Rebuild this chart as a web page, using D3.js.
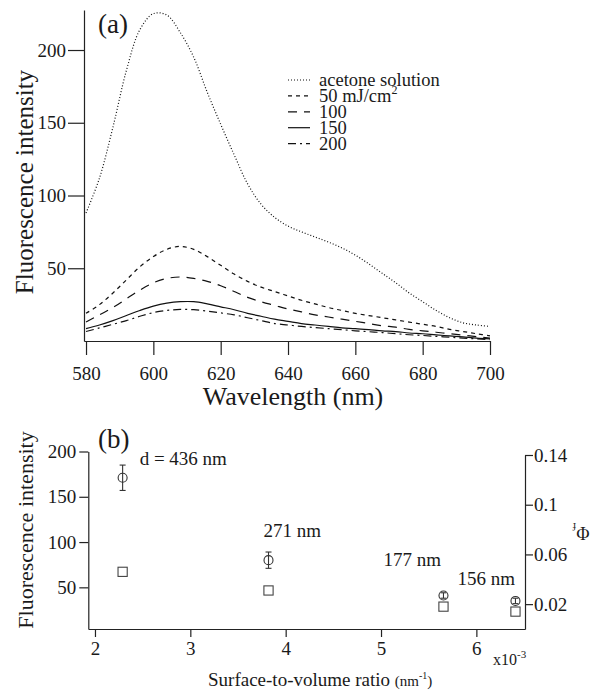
<!DOCTYPE html>
<html>
<head>
<meta charset="utf-8">
<script src="https://cdn.jsdelivr.net/npm/d3@7/dist/d3.min.js"></script>
<style>
  body { margin: 0; background: #fff; }
  svg text { font-family: "Liberation Serif", "Times New Roman", "DejaVu Serif", serif; fill: #1a1a1a; }
</style>
</head>
<body>
<svg id="chart"></svg>
<script>
// panel (a): emission spectra
const wavelength = [580, 584, 588, 592, 596, 600, 604, 608, 612, 616, 620, 624, 628, 632, 636, 640,
  644, 648, 652, 656, 660, 664, 668, 672, 676, 680, 684, 688, 692, 696, 700];
const acetone = [88, 112, 147, 186, 214, 225, 224, 212, 195, 171, 149, 128, 108, 94, 85, 79,
  75, 71.5, 68, 64, 59, 53, 46.5, 40, 33, 27, 21, 16, 12.5, 11, 10];
const fluence50 = [19, 25, 33, 42, 51, 58, 63, 65, 63, 58, 52, 46, 41, 37, 34, 31,
  28, 25.5, 23, 21, 19, 17.5, 16, 14.5, 13, 11.5, 10, 8, 6.5, 5, 3.5];
const fluence100 = [13, 18, 23, 29, 35, 40, 43, 44, 43, 41, 38, 34, 30, 27, 24.5, 22,
  20, 18, 16.5, 15, 13.5, 12, 10.5, 9.5, 8, 7, 6, 5, 4, 3, 2];
const fluence150 = [8.5, 11, 14, 17.5, 21, 24, 26, 27, 27, 25.5, 23.5, 21.5, 19, 17, 15, 13.5,
  12, 11, 10, 9, 8.5, 7.8, 7, 6.5, 5.5, 5, 4.2, 3.5, 2.8, 2, 1.5];
const fluence200 = [6.5, 9, 11.5, 14, 17, 19.5, 21, 21.7, 21.5, 20.5, 19.3, 18, 16, 14, 12, 11,
  10, 9.2, 8.5, 7.8, 7, 6.4, 5.8, 5, 4.3, 3.8, 3.2, 2.6, 2, 1.5, 1];
const seriesNames = ["acetone solution", "50 mJ/cm", "100", "150", "200"];
const waveTicks = [580, 600, 620, 640, 660, 680, 700];
const intensityTicksA = [50, 100, 150, 200];

// panel (b): size dependence
const sizeLabels = ["d = 436 nm", "271 nm", "177 nm", "156 nm"];
const ratio = [2.29, 3.82, 5.655, 6.41];
const intensity = [171, 80, 41, 35];
const intensityErr = [14, 9, 3, 3];
const phiF = [0.046, 0.031, 0.018, 0.014];
const ratioTicks = [2, 3, 4, 5, 6];
const intensityTicksB = [50, 100, 150, 200];
const phiTicks = [0.02, 0.06, 0.1, 0.14];

const series = [acetone, fluence50, fluence100, fluence150, fluence200];
const dashes = ["1,2", "4,4", "9,7", null, "8,4,2,4"];
const labelOffsets = [[17, -13], [-5, -23], [-60, -29], [-58, -16]];
const serif = "Liberation Serif, Times New Roman, DejaVu Serif, serif";

const svg = d3.select("#chart")
  .attr("width", 597).attr("height", 695)
  .attr("font-family", serif);

function styleAxis(g, size) {
  g.attr("font-family", serif).attr("font-size", size);
  g.selectAll("path, line").attr("stroke", "#222").attr("stroke-width", 1.2);
  g.selectAll("text").attr("fill", "#1a1a1a");
}

// ---------- (a) ----------
const xA = d3.scaleLinear().domain([579.4, 700]).range([84, 490]);
const yA = d3.scaleLinear().domain([0, 227.5]).range([341, 10]);

svg.append("g")
  .attr("transform", "translate(0,341)")
  .call(d3.axisBottom(xA).tickValues(waveTicks).tickSize(14).tickSizeOuter(0).tickPadding(12))
  .call(g => styleAxis(g, 19));

svg.append("g")
  .attr("transform", "translate(84,0)")
  .call(d3.axisLeft(yA).tickValues(intensityTicksA).tickSize(16).tickSizeOuter(0).tickPadding(2))
  .call(g => styleAxis(g, 19));

const line = d3.line()
  .x((d, i) => xA(wavelength[i]))
  .y(d => yA(d))
  .curve(d3.curveCatmullRom);

series.forEach((s, k) => {
  svg.append("path")
    .datum(s)
    .attr("d", line)
    .attr("fill", "none")
    .attr("stroke", "#111")
    .attr("stroke-width", 1.2)
    .attr("stroke-dasharray", dashes[k]);
});

// legend
const legend = svg.append("g").attr("transform", "translate(288,80)");
seriesNames.forEach((name, k) => {
  const y = k * 15.9;
  legend.append("line")
    .attr("x1", 0).attr("x2", 22).attr("y1", y).attr("y2", y)
    .attr("stroke", "#111").attr("stroke-width", 1.2)
    .attr("stroke-dasharray", dashes[k]);
  const t = legend.append("text")
    .attr("x", 31).attr("y", y).attr("dy", "0.33em")
    .attr("font-size", 18.5)
    .text(name);
  if (k === 1) {
    t.append("tspan").attr("font-size", 12).attr("dy", "-0.7em").text("2");
  }
});

svg.append("text")
  .attr("x", 98).attr("y", 33)
  .attr("font-size", 27)
  .text("(a)");

svg.append("text")
  .attr("transform", "translate(33,182) rotate(-90)")
  .attr("text-anchor", "middle")
  .attr("font-size", 25)
  .text("Fluorescence intensity");

svg.append("text")
  .attr("x", 293).attr("y", 405)
  .attr("text-anchor", "middle")
  .attr("font-size", 26)
  .text("Wavelength (nm)");

// ---------- (b) ----------
const xB = d3.scaleLinear().domain([1.93, 6.51]).range([88.3, 525]);
const yL = d3.scaleLinear().domain([4, 200]).range([629, 451.5]);
const yR = d3.scaleLinear().domain([0, 0.14]).range([629, 455]);

svg.append("g")
  .attr("transform", "translate(0,629)")
  .call(d3.axisBottom(xB).tickValues(ratioTicks).tickSize(8).tickSizeOuter(0).tickPadding(5)
    .tickFormat(d3.format("d")))
  .call(g => styleAxis(g, 19));

svg.append("g")
  .attr("transform", "translate(88.3,0)")
  .call(d3.axisLeft(yL).tickValues(intensityTicksB).tickSize(9).tickSizeOuter(0).tickPadding(3))
  .call(g => styleAxis(g, 19));

svg.append("g")
  .attr("transform", "translate(525,0)")
  .call(d3.axisRight(yR).tickValues(phiTicks).tickSize(8).tickSizeOuter(0).tickPadding(1)
    .tickFormat(d => String(d)))
  .call(g => styleAxis(g, 19));

// error bars + circles (left axis), squares (right axis)
const pts = svg.append("g").attr("stroke", "#333").attr("stroke-width", 1.1).attr("fill", "none");
ratio.forEach((r, i) => {
  const cx = xB(r);
  const top = yL(intensity[i] + intensityErr[i]);
  const bot = yL(intensity[i] - intensityErr[i]);
  pts.append("line").attr("x1", cx).attr("x2", cx).attr("y1", top).attr("y2", bot);
  pts.append("line").attr("x1", cx - 3).attr("x2", cx + 3).attr("y1", top).attr("y2", top);
  pts.append("line").attr("x1", cx - 3).attr("x2", cx + 3).attr("y1", bot).attr("y2", bot);
  pts.append("circle").attr("cx", cx).attr("cy", yL(intensity[i])).attr("r", 4.5);
  pts.append("rect")
    .attr("x", cx - 4.6).attr("y", yR(phiF[i]) - 4.6)
    .attr("width", 9.2).attr("height", 9.2)
    .attr("stroke", "#444");
  svg.append("text")
    .attr("x", cx + labelOffsets[i][0])
    .attr("y", yL(intensity[i]) + labelOffsets[i][1])
    .attr("font-size", 19)
    .text(sizeLabels[i]);
});

svg.append("text")
  .attr("x", 98).attr("y", 448)
  .attr("font-size", 27)
  .text("(b)");

svg.append("text")
  .attr("transform", "translate(33,530) rotate(-90)")
  .attr("text-anchor", "middle")
  .attr("font-size", 22)
  .text("Fluorescence intensity");

const xt = svg.append("text")
  .attr("x", 208).attr("y", 686)
  .attr("font-size", 19)
  .text("Surface-to-volume ratio ");
xt.append("tspan").attr("font-size", 15).text("(nm");
xt.append("tspan").attr("font-size", 10).attr("dy", "-0.7em").text("-1");
xt.append("tspan").attr("font-size", 15).attr("dy", "0.45em").text(")");

const mult = svg.append("text")
  .attr("x", 493).attr("y", 665)
  .attr("font-size", 16)
  .text("x10");
mult.append("tspan").attr("font-size", 11).attr("dy", "-0.6em").text("-3");

const phiLabel = svg.append("text")
  .attr("transform", "translate(581,533) rotate(180)")
  .attr("text-anchor", "middle")
  .attr("dy", "0.35em")
  .attr("font-size", 18)
  .text("Φ");
phiLabel.append("tspan").attr("font-size", 11).attr("dy", "0.3em").text("f");
</script>
</body>
</html>
